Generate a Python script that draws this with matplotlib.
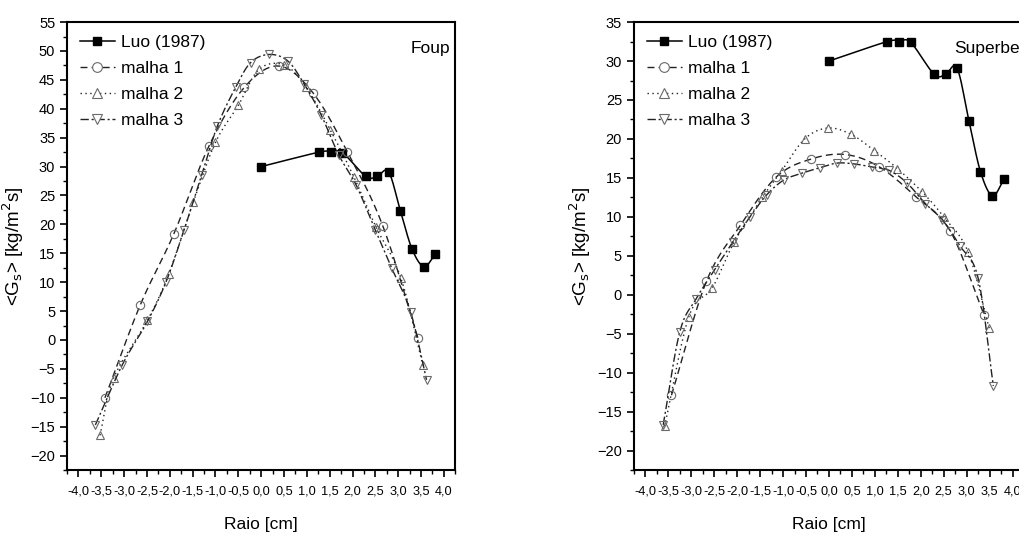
import numpy as np
import matplotlib
matplotlib.use("Agg")
import matplotlib.pyplot as plt
from matplotlib.lines import Line2D

plt.rcParams['font.family'] = ['Liberation Sans', 'DejaVu Sans']

# Luo (1987) experimental data, same on both panels
luo_x = [0.0, 1.27, 1.52, 1.78, 2.29, 2.54, 2.79, 3.05, 3.30, 3.56, 3.81]
luo_y = [30.0, 32.5, 32.5, 32.4, 28.3, 28.3, 29.1, 22.3, 15.8, 12.7, 14.8]

# Foup (left)
foup_m1_x = [-3.42, -2.65, -1.91, -1.14, -0.37, 0.39, 1.14, 1.89, 2.66, 3.43]
foup_m1_y = [-10.0, 6.0, 18.4, 33.6, 43.7, 47.4, 42.7, 32.5, 19.8, 0.4]
foup_m2_x = [-3.53, -3.23, -2.49, -2.02, -1.49, -1.0, -0.5, -0.05, 0.5, 0.98, 1.51, 2.03, 2.51, 3.06, 3.54]
foup_m2_y = [-16.5, -6.6, 3.4, 11.5, 23.8, 34.2, 40.6, 46.8, 47.6, 43.8, 36.4, 28.2, 19.6, 10.7, -4.4]
foup_m3_x = [-3.63, -3.04, -2.49, -2.08, -1.69, -1.3, -0.96, -0.56, -0.23, 0.17, 0.58, 0.94, 1.31, 1.7, 2.08, 2.5, 2.86, 3.27, 3.62]
foup_m3_y = [-14.7, -4.3, 3.2, 10.1, 19.0, 28.6, 37.0, 43.7, 48.0, 49.4, 48.3, 44.3, 39.0, 32.0, 26.8, 19.0, 12.4, 4.9, -6.9]

# Superbee (right)
sb_m1_x = [-3.43, -2.67, -1.93, -1.15, -0.40, 0.36, 1.10, 1.89, 2.64, 3.38]
sb_m1_y = [-12.9, 1.7, 8.9, 15.1, 17.4, 18.0, 16.4, 12.6, 8.2, -2.6]
sb_m2_x = [-3.58, -3.05, -2.54, -2.06, -1.45, -1.03, -0.53, -0.03, 0.48, 0.99, 1.49, 2.03, 2.5, 3.03, 3.49]
sb_m2_y = [-16.9, -2.8, 0.9, 6.8, 12.5, 15.9, 20.0, 21.4, 20.6, 18.5, 16.2, 13.2, 10.0, 5.5, -4.3]
sb_m3_x = [-3.61, -3.25, -2.89, -2.49, -2.09, -1.72, -1.36, -0.99, -0.59, -0.20, 0.17, 0.54, 0.94, 1.30, 1.69, 2.10, 2.47, 2.85, 3.25, 3.58]
sb_m3_y = [-16.7, -4.8, -0.5, 3.2, 6.8, 10.0, 12.8, 14.7, 15.6, 16.3, 16.9, 16.8, 16.4, 16.0, 14.4, 11.7, 9.6, 6.3, 2.1, -11.7]

xticks = np.arange(-4.0, 4.01, 0.5)
xlabels = [("%.1f" % v).replace('.', ',') for v in xticks]


def smooth(x, y, n=16):
    # catmull-rom curve through the points, like origin's spline connect
    x = np.asarray(x, float)
    y = np.asarray(y, float)
    px = np.concatenate([[2 * x[0] - x[1]], x, [2 * x[-1] - x[-2]]])
    py = np.concatenate([[2 * y[0] - y[1]], y, [2 * y[-1] - y[-2]]])
    t = np.linspace(0, 1, n, endpoint=False)
    sx, sy = [], []
    for i in range(1, len(px) - 2):
        for p, out in ((px, sx), (py, sy)):
            p0, p1, p2, p3 = p[i - 1], p[i], p[i + 1], p[i + 2]
            out.extend(0.5 * (2 * p1 + (-p0 + p2) * t + (2 * p0 - 5 * p1 + 4 * p2 - p3) * t ** 2
                              + (-p0 + 3 * p1 - 3 * p2 + p3) * t ** 3))
    sx.append(x[-1])
    sy.append(y[-1])
    return sx, sy


styles = [
    ('malha 1', 'o', (0, (5, 3)), 'dimgray'),
    ('malha 2', '^', (0, (1, 2.5)), 'dimgray'),
    ('malha 3', 'v', (0, (6, 2, 1.5, 2)), 'dimgray'),
]


def panel(ax, series, ylim, yticks, label, label_x):
    sx, sy = smooth(luo_x, luo_y)
    ax.plot(sx, sy, '-', color='black', lw=1.1)
    ax.plot(luo_x, luo_y, 's', color='black', ms=6)
    handles = [Line2D([], [], color='black', lw=1.1, marker='s', ms=6)]
    for (name, mk, ls, c), (x, y) in zip(styles, series):
        sx, sy = smooth(x, y)
        ax.plot(sx, sy, linestyle=ls, color='#222222', lw=1.0)
        ax.plot(x, y, mk, ms=6, mfc='none', mec=c, mew=0.8, ls='none')
        handles.append(Line2D([], [], color='#222222', lw=1.0, linestyle=ls,
                              marker=mk, ms=7, mfc='white', mec=c, mew=0.8))
    ax.legend(handles, ['Luo (1987)', 'malha 1', 'malha 2', 'malha 3'],
              loc='upper left', frameon=False, fontsize=12.5, handlelength=2.0,
              handletextpad=0.35, labelspacing=0.62, borderaxespad=0.45,
              borderpad=0.3)
    ax.text(label_x, 0.94, label, transform=ax.transAxes, ha='left', va='center', fontsize=12.5)
    ax.set_xlim(-4.25, 4.25)
    ax.set_ylim(*ylim)
    ax.set_xticks(xticks)
    ax.set_xticklabels(xlabels)
    ax.set_xticks(np.arange(-4.25, 4.26, 0.25), minor=True)
    ax.set_yticks(yticks)
    ax.set_yticks(np.arange(yticks[0] - 2.5, yticks[-1] + 0.1, 2.5), minor=True)
    ax.tick_params(which='major', direction='out', length=5, width=1.2, labelsize=10.5, top=False, right=False)
    ax.tick_params(which='minor', direction='out', length=3, width=1.0, top=False, right=False)
    ax.tick_params(axis='x', pad=6, labelsize=9.2)
    for s in ax.spines.values():
        s.set_linewidth(1.5)
    ax.set_xlabel('Raio [cm]', fontsize=12.5, labelpad=14)
    ax.set_ylabel(r'<G$_{\rm s}$> [kg/m$^{\rm 2}$s]', fontsize=13.5, labelpad=3)


fig = plt.figure(figsize=(10.19, 5.39), dpi=100)
ax1 = fig.add_axes([0.0658, 0.128, 0.381, 0.831])
ax2 = fig.add_axes([0.622, 0.128, 0.383, 0.831])

panel(ax1, [(foup_m1_x, foup_m1_y), (foup_m2_x, foup_m2_y), (foup_m3_x, foup_m3_y)],
      (-22.5, 55), np.arange(-20, 56, 5), 'Foup', 0.884)
panel(ax2, [(sb_m1_x, sb_m1_y), (sb_m2_x, sb_m2_y), (sb_m3_x, sb_m3_y)],
      (-22.5, 35), np.arange(-20, 36, 5), 'Superbee', 0.82)

fig.savefig('out.png', dpi=100)
